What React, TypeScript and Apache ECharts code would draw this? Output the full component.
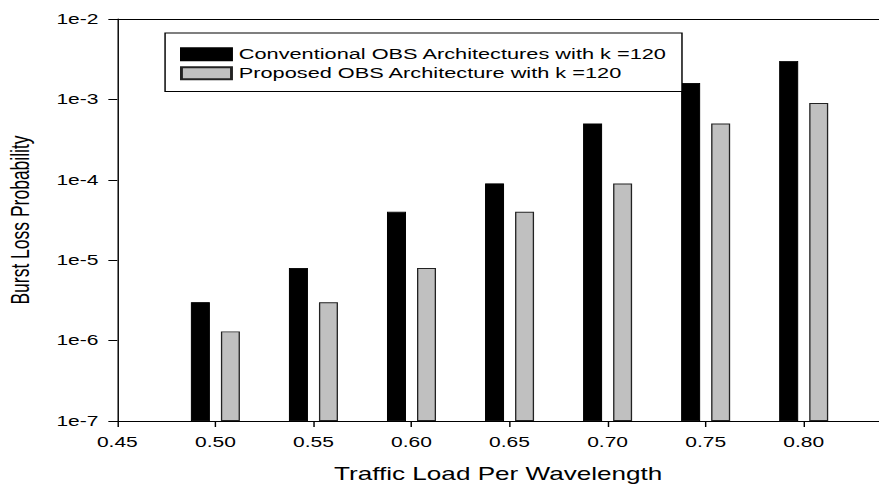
import React, { useEffect, useRef } from "react";
import * as echarts from "echarts";

// ---- data ----
const loads = [0.5, 0.55, 0.6, 0.65, 0.7, 0.75, 0.8];
const conventional = [3e-6, 8e-6, 4e-5, 9e-5, 5e-4, 1.6e-3, 3e-3];
const proposed = [1.3e-6, 3e-6, 8e-6, 4e-5, 9e-5, 5e-4, 9e-4];
const xTickValues = [0.45, 0.5, 0.55, 0.6, 0.65, 0.7, 0.75, 0.8];
const xTickLabels = ["0.45", "0.50", "0.55", "0.60", "0.65", "0.70", "0.75", "0.80"];
const yTickLabels = ["1e-7", "1e-6", "1e-5", "1e-4", "1e-3", "1e-2"];
const seriesNames = [
  "Conventional OBS Architectures with k =120",
  "Proposed OBS Architecture with k =120",
];

const STRETCH = 1.4505;
const W0 = 606;
const H0 = 488;
const FONT = "'Liberation Sans', Arial, Helvetica, sans-serif";

export default function App() {
  const ref = useRef<HTMLDivElement>(null);
  useEffect(() => {
    if (!ref.current) return;
    const chart = echarts.init(ref.current, undefined, { renderer: "svg" });
    const X_MIN = 0.45;
    const X_MAX = 0.8384;
    const option: any = {
      animation: false,
      backgroundColor: "#fff",
      grid: {
        left: 80.9,
        right: 0,
        top: 19,
        bottom: 67,
        show: false,
        containLabel: false,
        outerBoundsMode: "none",
      },
      legend: {
        orient: "vertical",
        left: 113.8,
        top: 33,
        padding: [13.7, 10, 10.8, 10.3],
        borderColor: "#000",
        borderWidth: 1,
        backgroundColor: "#fff",
        itemWidth: 34.5,
        itemHeight: 12,
        itemGap: 4,
        icon: "rect",
        textStyle: { fontFamily: FONT, fontSize: 15, color: "#000" },
        data: seriesNames,
      },
      xAxis: [
        {
          type: "value",
          min: X_MIN,
          max: X_MAX,
          interval: 0.05,
          name: "Traffic Load Per Wavelength",
          nameLocation: "middle",
          nameGap: 44,
          nameTextStyle: { fontFamily: FONT, fontSize: 18, color: "#000" },
          axisLine: { show: true, onZero: false, lineStyle: { color: "#000", width: 1 } },
          axisTick: {
            show: true,
            length: 6,
            inside: false,
            customValues: xTickValues,
            lineStyle: { color: "#000" },
          },
          axisLabel: {
            customValues: xTickValues,
            margin: 14,
            fontFamily: FONT,
            fontSize: 14.5,
            color: "#000",
            formatter: (v: number) => {
              const i = xTickValues.findIndex((t) => Math.abs(t - v) < 1e-6);
              return i >= 0 ? xTickLabels[i] : "";
            },
          },
          splitLine: { show: false },
        },
        {
          type: "value",
          position: "top",
          min: X_MIN,
          max: X_MAX,
          axisLine: { show: true, onZero: false, lineStyle: { color: "#000", width: 1 } },
          axisTick: { show: false },
          axisLabel: { show: false },
          splitLine: { show: false },
        },
      ],
      yAxis: {
        type: "log",
        logBase: 10,
        min: 1e-7,
        max: 1e-2,
        startValue: 1e-7,
        name: "Burst Loss Probability",
        nameLocation: "middle",
        nameRotate: 90,
        nameGap: 58,
        nameTextStyle: { fontFamily: FONT, fontSize: 17.5, color: "#000" },
        axisLine: { show: true, lineStyle: { color: "#000", width: 1 } },
        axisTick: { show: true, length: 6.2, inside: false, lineStyle: { color: "#000" } },
        minorTick: { show: false },
        axisLabel: {
          margin: 13,
          fontFamily: FONT,
          fontSize: 14.5,
          color: "#000",
          formatter: (v: number) => {
            const e = Math.round(Math.log10(v));
            const lbl = `1e${e}`;
            return yTickLabels.includes(lbl) ? lbl : "";
          },
        },
        splitLine: { show: false },
      },
      series: [
        {
          name: seriesNames[0],
          type: "bar",
          xAxisIndex: 0,
          barWidth: 13.1,
          barGap: "58%",
          clip: true,
          itemStyle: { color: "#000", borderColor: "#000", borderWidth: 0.7 },
          data: loads.map((x, i) => [x, conventional[i]]),
        },
        {
          name: seriesNames[1],
          type: "bar",
          xAxisIndex: 0,
          barWidth: 13.1,
          barGap: "58%",
          clip: true,
          itemStyle: { color: "#c0c0c0", borderColor: "#222", borderWidth: 0.9 },
          data: loads.map((x, i) => [x, proposed[i]]),
        },
      ],
    };
    chart.setOption(option);
    return () => chart.dispose();
  }, []);
  return (
    <div
      style={{
        position: "fixed",
        left: 0,
        top: 0,
        width: W0 * STRETCH,
        height: H0,
        overflow: "hidden",
        background: "#fff",
      }}
    >
      <div
        ref={ref}
        style={{
          width: W0,
          height: H0,
          transform: `scaleX(${STRETCH})`,
          transformOrigin: "0 0",
        }}
      />
    </div>
  );
}
